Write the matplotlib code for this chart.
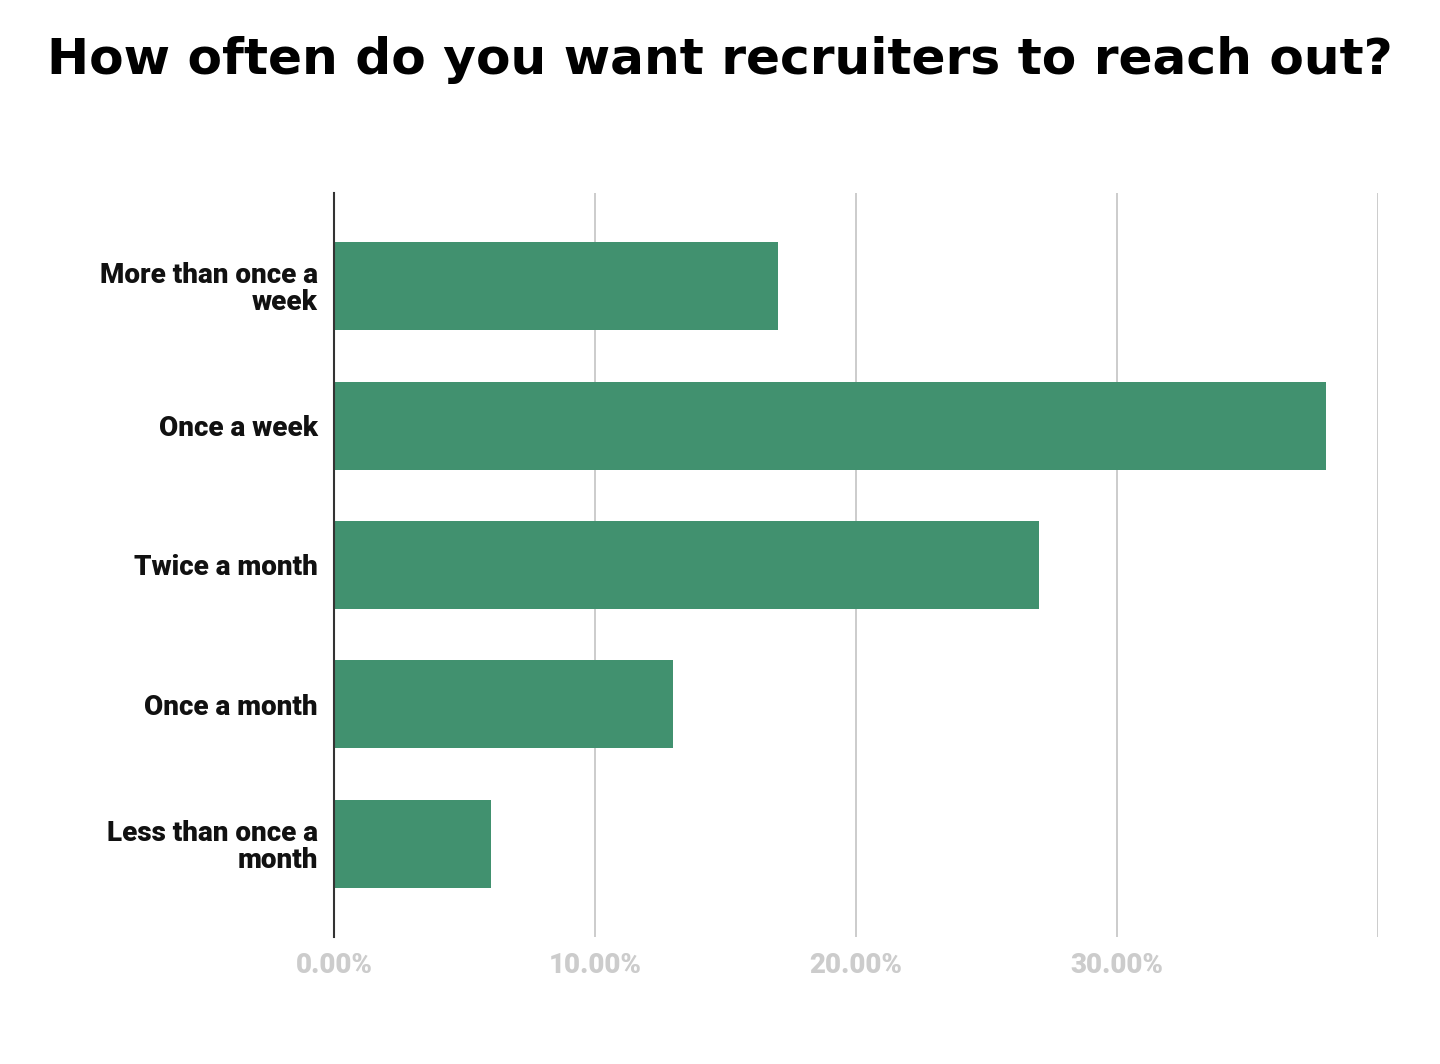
import matplotlib.pyplot as plt

# survey answers and share of respondents (%)
categories = ["More than once a\nweek", "Once a week", "Twice a month",
              "Once a month", "Less than once a\nmonth"]
values = [17, 38, 27, 13, 6]
xticks = [0, 10, 20, 30, 40]
xtick_labels = ["0.00%", "10.00%", "20.00%", "30.00%", ""]

fig = plt.figure(figsize=(14.4, 10.64), dpi=100)
ax = fig.add_axes([0.2319, 0.1194, 0.7250, 0.6992])

ypos = list(range(len(categories)))
ax.barh(ypos, values, height=0.63, color="#41916f", zorder=3)

ax.set_xlim(0, 40)
ax.set_ylim(len(categories) - 0.33, -0.67)
ax.set_xticks(xticks)
ax.set_xticklabels(xtick_labels)
ax.set_yticks(ypos)
ax.set_yticklabels(categories, fontfamily="Roboto", fontweight="heavy",
                   fontsize=20, color="#111111", linespacing=1.0)
for lab in ax.get_xticklabels():
    lab.set_fontfamily("Roboto")
    lab.set_fontweight("heavy")
    lab.set_fontsize(20)
    lab.set_color("#cccccc")

ax.tick_params(axis="both", length=0)
ax.tick_params(axis="y", pad=11.5)
ax.tick_params(axis="x", pad=11)
ax.grid(axis="x", color="#cccccc", linewidth=1.4, zorder=0)
for s in ["top", "right", "bottom"]:
    ax.spines[s].set_visible(False)
ax.spines["left"].set_color("#333333")
ax.spines["left"].set_linewidth(1.5)
ax.spines["left"].set_zorder(4)

fig.text(0.5, 0.944, "How often do you want recruiters to reach out?",
         ha="center", va="center", fontsize=36.2, fontweight="heavy",
         fontfamily="DejaVu Sans", color="black")

fig.savefig("out.png", dpi=100, facecolor="white")
